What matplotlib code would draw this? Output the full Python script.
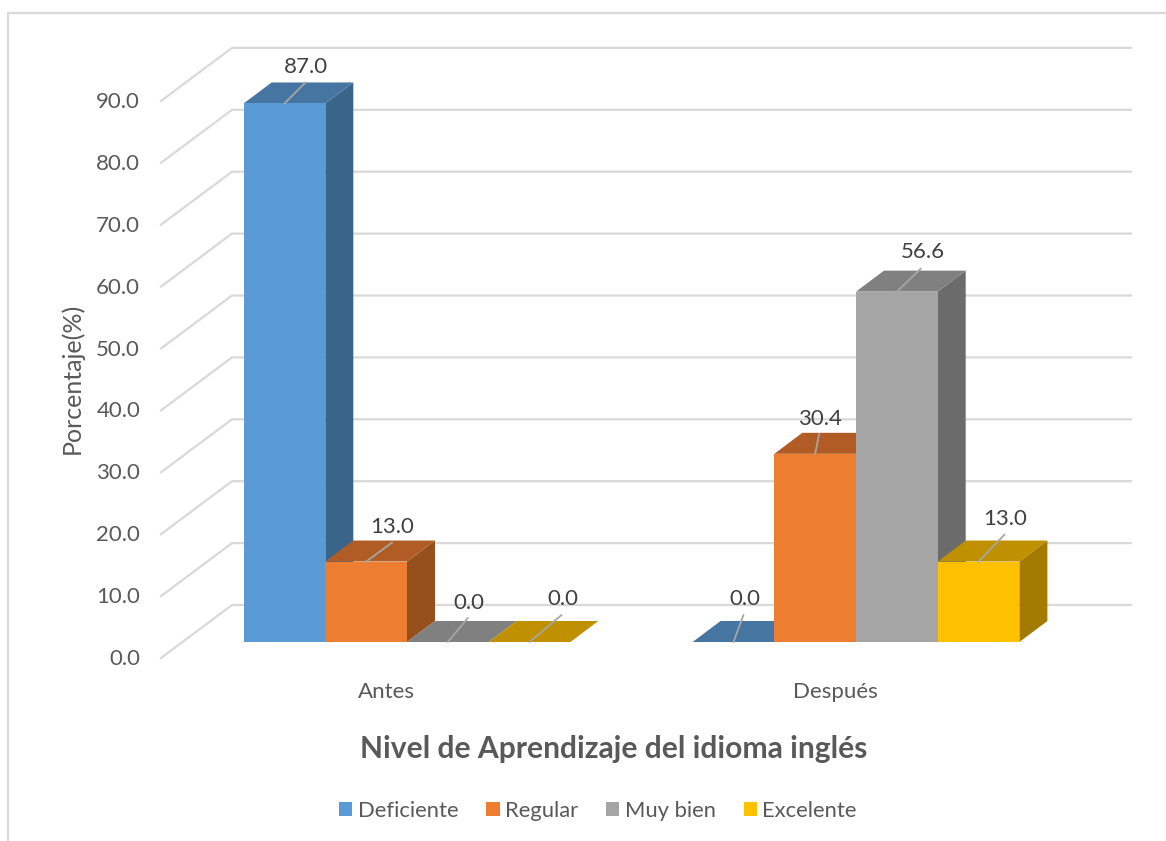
import matplotlib
matplotlib.use('Agg')
import matplotlib.pyplot as plt
from matplotlib.patches import Polygon, Patch
from matplotlib.lines import Line2D
from matplotlib.transforms import ScaledTranslation

plt.rcParams['font.family'] = ['Lato', 'DejaVu Sans']

groups = ['Antes', 'Después']
series = ['Deficiente', 'Regular', 'Muy bien', 'Excelente']
antes = [87.0, 13.0, 0.0, 0.0]
despues = [0.0, 30.4, 56.6, 13.0]
yticks = [0, 10, 20, 30, 40, 50, 60, 70, 80, 90]

front_colors = ['#5B9BD5', '#ED7D31', '#A5A5A5', '#FFC000']
top_colors = ['#4575A0', '#B15C24', '#808080', '#BF9000']
side_colors = ['#3B6588', '#96501D', '#6B6B6B', '#A37B00']
text_color = '#595959'
grid_color = '#D9D9D9'

# offsets in pixels from bar front top centre: leader end, label centre
leader_ends = [[(21, 21), (26, 19), (20, 24), (32, 27)],
               [(10, 27), (4, 20), (24, 23), (26, 27)]]
label_pos = [[(21, 36), (26, 35), (21, 39), (33, 43)],
             [(11, 43), (5, 35), (26, 40), (27, 43)]]

W, H = 1166, 841
fig = plt.figure(figsize=(W / 100, H / 100), dpi=100)
left, right, top, bottom = 161, 1131, 47, 658
ax = fig.add_axes([left / W, 1 - bottom / H, (right - left) / W, (bottom - top) / H])

px_x = 449.0      # pixels per group step
px_y = 6.19       # pixels per percent
ax.set_xlim((left - 386) / px_x, (right - 386) / px_x)
ax.set_ylim(0, (bottom - top) / px_y)
for s in ax.spines.values():
    s.set_visible(False)
ax.patch.set_visible(False)

wall_dx = 71 / px_x
wall_dy = 53 / px_y
x0, x1 = ax.get_xlim()

# walls gridlines
for v in yticks:
    ax.plot([x0, x0 + wall_dx, x1], [v, v + wall_dy, v + wall_dy], color=grid_color, lw=1.6,
            clip_on=False, zorder=1, solid_joinstyle='miter')

# bars
bar_w = 81.7 / px_x
d0x, d0y = 21 / px_x, 16 / px_y
d1x, d1y = 49 / px_x, 37 / px_y
z = 3
for g, vals in enumerate([antes, despues]):
    for i, v in enumerate(vals):
        xa = g + (i - 2) * bar_w + d0x
        xb = xa + bar_w
        ya = d0y
        yb = d0y + v
        ddx, ddy = d1x - d0x, d1y - d0y
        if v > 0:
            ax.add_patch(Polygon([(xb, ya), (xb + ddx, ya + ddy), (xb + ddx, yb + ddy), (xb, yb)],
                                 fc=side_colors[i], ec='none', zorder=z, clip_on=False))
        ax.add_patch(Polygon([(xa, yb), (xb, yb), (xb + ddx, yb + ddy), (xa + ddx, yb + ddy)],
                             fc=top_colors[i], ec='none', zorder=z, clip_on=False))
        if v > 0:
            ax.add_patch(Polygon([(xa, ya), (xb, ya), (xb, yb), (xa, yb)],
                                 fc=front_colors[i], ec='none', zorder=z, clip_on=False))
        z += 1

# data labels
for g, vals in enumerate([antes, despues]):
    for i, v in enumerate(vals):
        xc = g + (i - 1.5) * bar_w + d0x
        yc = d0y + v
        ax.annotate('', xy=(xc, yc), xytext=leader_ends[g][i], textcoords='offset pixels',
                    arrowprops=dict(arrowstyle='-', color='#A6A6A6', lw=1.3, shrinkA=0, shrinkB=0),
                    zorder=30)
        ax.annotate('%.1f' % v, xy=(xc, yc), xytext=label_pos[g][i], textcoords='offset pixels',
                    ha='center', va='center', fontsize=16, color='#404040', zorder=31)

ax.set_yticks(yticks)
ax.set_yticklabels(['%.1f' % v for v in yticks], fontsize=16, color=text_color)
ax.set_xticks([0, 1])
ax.set_xticklabels(groups, fontsize=16, color=text_color)
ax.tick_params(axis='y', length=0, pad=15)
ax.tick_params(axis='x', length=0, pad=17)
# tick labels sit a bit above the wall corner
up = ScaledTranslation(0, 1 / 100, fig.dpi_scale_trans)
for t in ax.get_yticklabels():
    t.set_transform(t.get_transform() + up)
ax.set_ylabel('Porcentaje(%)', fontsize=18, color=text_color, labelpad=9, y=(658 - 378) / 611)
ax.set_xlabel('Nivel de Aprendizaje del idioma inglés', fontsize=21.6, fontweight='bold',
              color=text_color, labelpad=24, x=(614 - left) / (right - left))

handles = [Patch(fc=c, ec='none') for c in front_colors]
fig.legend(handles, series, loc='center', bbox_to_anchor=(598 / W, 1 - 811 / H), ncol=4,
           frameon=False, fontsize=15.8, labelcolor=text_color, handlelength=0.6, handleheight=0.6,
           handletextpad=0.25, columnspacing=1.27)

# chart frame
fig.add_artist(Line2D([7.5 / W, 7.5 / W, 1], [0, 1 - 12.5 / H, 1 - 12.5 / H],
                      color='#D9D9D9', lw=1.6))

fig.savefig('out.png', dpi=100)
